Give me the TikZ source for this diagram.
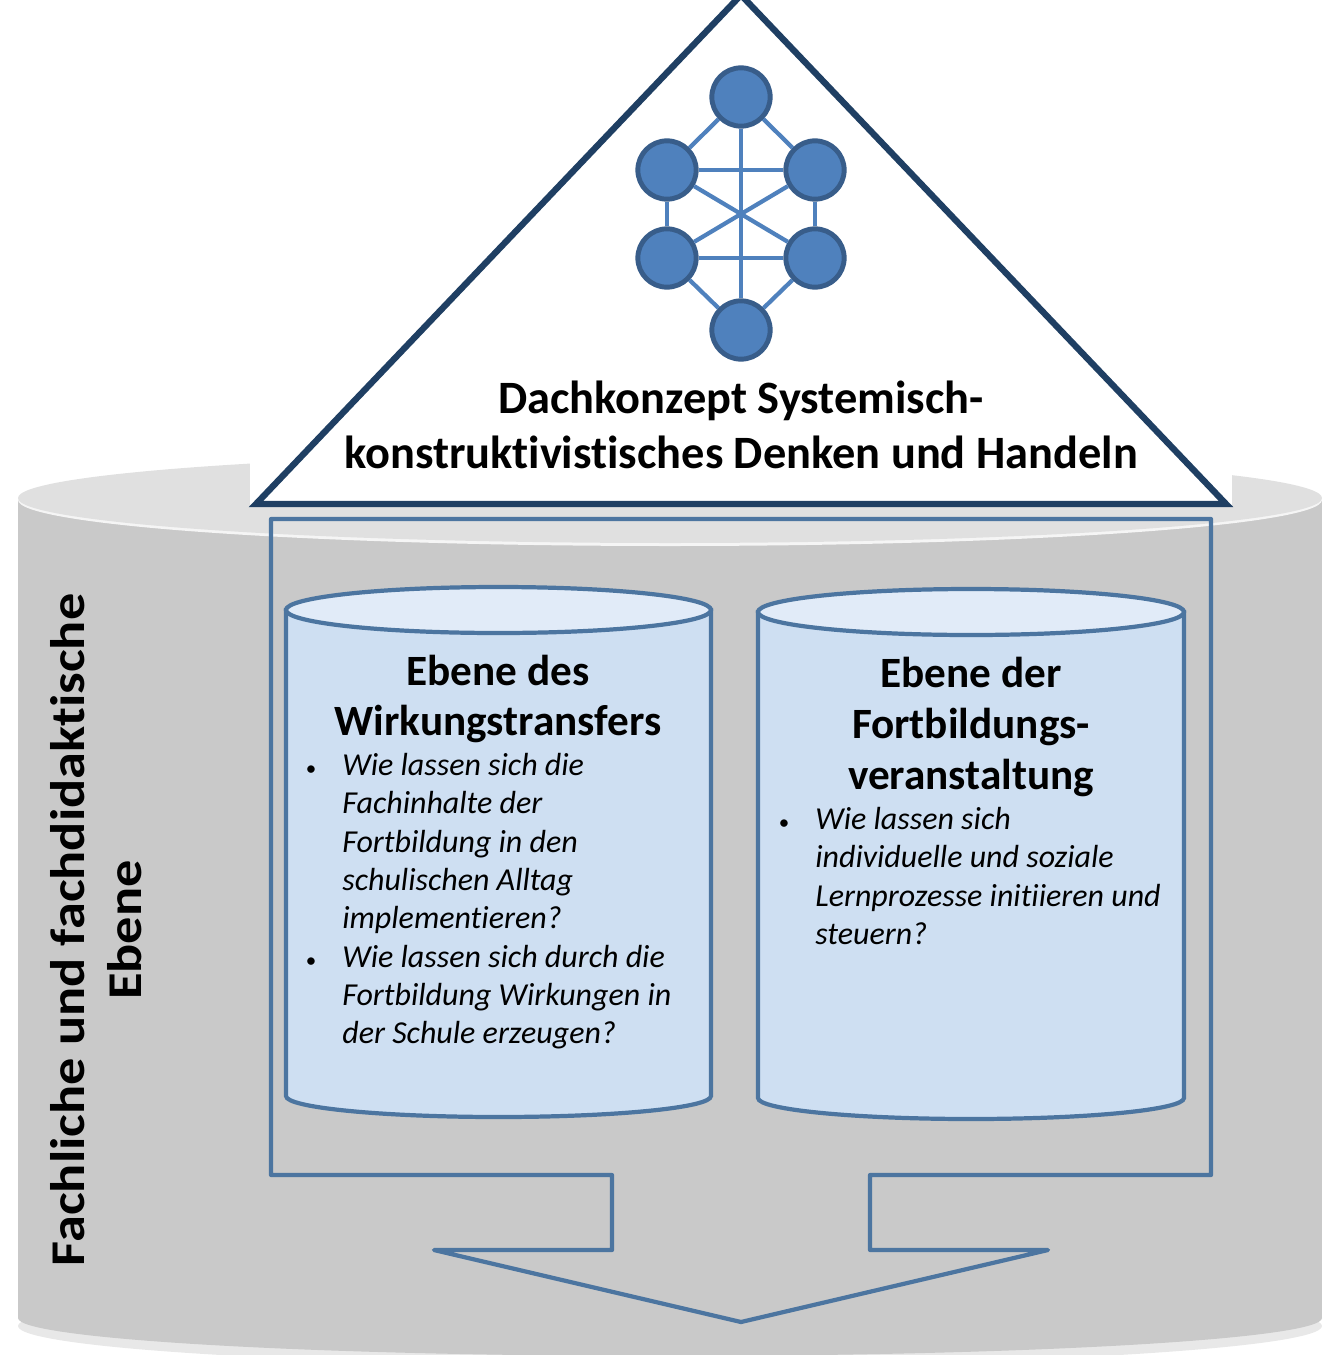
\documentclass[tikz,border=0pt]{standalone}
\usepackage{fontspec}
\setmainfont[Ligatures=CommonOff]{Carlito}
\definecolor{roofblue}{HTML}{1F3F63}
\definecolor{frameblue}{HTML}{4C75A0}
\definecolor{nodeblue}{HTML}{4F81BD}
\definecolor{noderim}{HTML}{385D8A}
\definecolor{drumside}{HTML}{CEDFF2}
\definecolor{drumtop}{HTML}{E1EBF8}
\newcommand{\bul}{\llap{{\fontsize{12}{12}\selectfont\textbullet}\hspace{15pt}}}
\tikzset{
  netnode/.style={draw=noderim, fill=nodeblue, circle, line width=2.8pt, minimum size=33.2pt, inner sep=0pt},
  netline/.style={draw=nodeblue, line width=2.4pt},
  drum/.style={draw=frameblue, line width=2.4pt, fill=drumside},
  head/.style={font=\bfseries\fontsize{24.6}{28.9}\selectfont, align=center},
  body/.style={font=\itshape\fontsize{18.2}{21.8}\selectfont, align=left, anchor=north west, inner sep=0pt}
}
\begin{document}
\begin{tikzpicture}[x=0.02cm,y=-0.02cm]
\useasboundingbox (0,0) rectangle (1322,1355);
\clip (0,0) rectangle (1322,1355);

% grey base
\fill[gray!18] (670,1326) ellipse [x radius=652, y radius=40];
\fill[black!21] (18,500) rectangle (1322,1318);
\fill[black!21] (670,1318) ellipse [x radius=652, y radius=38];
\fill[black!4] (670,500) ellipse [x radius=652, y radius=46];
\fill[black!12] (670,498) ellipse [x radius=652, y radius=45];

% roof
\fill[white] (250,0) rectangle (1232,507);
\node[inner sep=0pt] (apex) at (741,-5) {};
\node[inner sep=0pt] (eaveL) at (256,504) {};
\node[inner sep=0pt] (eaveR) at (1226,504) {};
\path[draw=roofblue,line width=3.6pt,line join=miter] (apex.center) -- (eaveL.center) -- (eaveR.center) -- cycle;

% network
\node[netnode] (top) at (741,97) {};
\node[netnode] (ml) at (667,170) {};
\node[netnode] (mr) at (815,170) {};
\node[netnode] (ll) at (667,258) {};
\node[netnode] (lr) at (815,258) {};
\node[netnode] (bot) at (741,330) {};

\path[netline] (top) -- (ml);
\path[netline] (top) -- (mr);
\path[netline] (top) -- (bot);
\path[netline] (ml) -- (mr);
\path[netline] (ll) -- (lr);
\path[netline] (ml) -- (ll);
\path[netline] (mr) -- (lr);
\path[netline] (ml) -- (lr);
\path[netline] (mr) -- (ll);
\path[netline] (ll) -- (bot);
\path[netline] (lr) -- (bot);

\node[head,font=\bfseries\fontsize{26.4}{31.2}\selectfont] (roof) at (741,425) {Dachkonzept Systemisch-\\konstruktivistisches Denken und Handeln};

% arrow frame
\path[draw=frameblue,line width=2.4pt,line join=round] (271,519) -- (1211,519) -- (1211,1175) -- (870,1175) -- (870,1250) -- (1048,1250) -- (741,1322) -- (434,1250) -- (612,1250) -- (612,1175) -- (271,1175) -- cycle;

% left drum
\path[drum] (286,610) -- (286,1096) arc [start angle=180, end angle=0, x radius=212.5, y radius=21] -- (711,610) -- cycle;
\path[drum,fill=drumtop] (498.5,610) ellipse [x radius=212.5, y radius=23];
% right drum
\path[drum] (758,612) -- (758,1098) arc [start angle=180, end angle=0, x radius=213, y radius=21] -- (1184,612) -- cycle;
\path[drum,fill=drumtop] (971,612) ellipse [x radius=213, y radius=23];

\node[head] (headL) at (498,699) {Ebene des\\Wirkungstransfers};
\node[head] (headR) at (971,727) {Ebene der\\Fortbildungs-\\veranstaltung};

\node[body] (textL) at (342,753) {\bul Wie lassen sich die\\Fachinhalte der\\Fortbildung in den\\schulischen Alltag\\implementieren?\\\bul Wie lassen sich durch die\\Fortbildung Wirkungen in\\der Schule erzeugen?};
\node[body] (textR) at (815,807) {\bul Wie lassen sich\\individuelle und soziale\\Lernprozesse initiieren und\\steuern?};

\node[head,font=\bfseries\fontsize{27.6}{32.3}\selectfont,rotate=90,xscale=1.12,transform shape] (side) at (96,930) {Fachliche und fachdidaktische\\Ebene};
\end{tikzpicture}
\end{document}
